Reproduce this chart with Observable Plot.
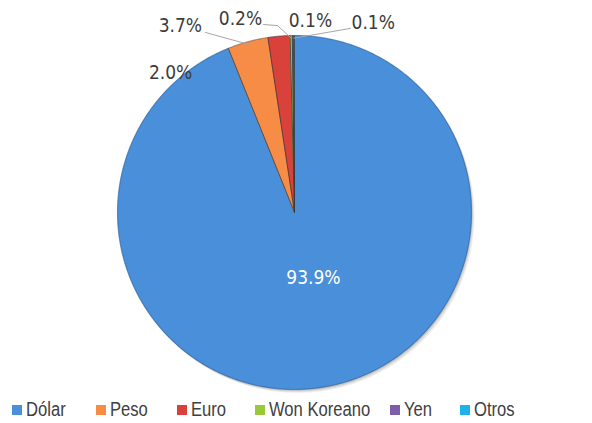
<!DOCTYPE html>
<html><head><meta charset="utf-8">
<script src="https://cdn.jsdelivr.net/npm/d3@7"></script>
<script src="https://cdn.jsdelivr.net/npm/@observablehq/plot@0.6"></script>
<style>
body{margin:0;background:#fff;}
#legend{position:relative;height:28px;font-family:"Liberation Sans",Arial,sans-serif;font-size:20px;color:#404040;}
#legend .item{position:absolute;top:3px;display:flex;align-items:center;white-space:nowrap;}
#legend .sw{width:10px;height:10px;margin-right:4px;flex:none;}
#legend .tx{display:inline-block;transform:scaleX(0.83);transform-origin:left center;}
</style>
</head><body><div id="chart"></div><div id="legend"></div>
<script>
// ---- data ----
const categories = ["Dólar", "Peso", "Euro", "Won Koreano", "Yen", "Otros"];
const shares = [93.9, 3.7, 2.0, 0.2, 0.1, 0.1];
const colors = ["#4a8fd9", "#f68c45", "#d9413b", "#9bc73b", "#7d5ea8", "#1db2ea"];
const labelTexts = ["2.0%", "3.7%", "0.2%", "0.1%", "0.1%"];
const mainLabel = "93.9%";

// ---- layout ----
const W = 592, H = 395, cx = 294, cy = 212, R = 177;
const labelXY = [[-0.70, 0.79], [-0.645, 1.055], [-0.305, 1.095], [0.09, 1.085], [0.445, 1.073]];
const mainXY = [0.107, -0.367];
const leaderDefs = [
  {pts: [[-0.503, 1.017]], slice: 1},
  {pts: [[-0.175, 1.062], [-0.096, 1.056]], slice: 3},
  {pts: [[0.316, 1.040]], slice: 5}
];
const legendLeft = [12, 96, 177, 255, 390, 460];
const shadowSteps = [[1, 1.5, 0.10], [2, 2.5, 0.08], [3, 3.5, 0.06]];
const FONT = "DejaVu Sans Condensed, DejaVu Sans, sans-serif";

const data = categories.map((c, i) => ({name: c, share: shares[i]}));
const arcs = d3.pie().sort(null).value(d => d.share)(data);

const pts = [];
const rim = [];
arcs.forEach(a => {
  const n = Math.max(2, Math.ceil((a.endAngle - a.startAngle) / (Math.PI / 360)));
  pts.push({name: a.data.name, x: 0, y: 0});
  for (let k = 0; k <= n; k++) {
    const t = a.startAngle + (a.endAngle - a.startAngle) * k / n;
    pts.push({name: a.data.name, x: Math.sin(t), y: Math.cos(t)});
    rim.push({x: Math.sin(t), y: Math.cos(t)});
  }
});
const edges = arcs.map(a => ({x: Math.sin(a.startAngle), y: Math.cos(a.startAngle)}));

const leaders = [];
leaderDefs.forEach((l, i) => {
  l.pts.forEach(p => leaders.push({id: i, x: p[0], y: p[1]}));
  const a = arcs[l.slice];
  const m = (a.startAngle + a.endAngle) / 2;
  leaders.push({id: i, x: 0.985 * Math.sin(m), y: 0.985 * Math.cos(m)});
});

const labels = labelTexts.map((t, i) => ({text: t, x: labelXY[i][0], y: labelXY[i][1]}));

const chart = Plot.plot({
  width: W, height: H, margin: 0,
  style: {background: "#fff"},
  x: {domain: [-cx / R, (W - cx) / R], axis: null},
  y: {domain: [-(H - cy) / R, cy / R], axis: null},
  color: {domain: categories, range: colors},
  marks: [
    ...shadowSteps.map(([dx, dy, op]) =>
      Plot.line(rim, {x: "x", y: "y", fill: "#000", fillOpacity: op, stroke: "none", curve: "linear-closed", dx, dy})),
    Plot.line(pts, {x: "x", y: "y", z: "name", fill: "name", stroke: "name", strokeWidth: 0.5, curve: "linear-closed"}),
    Plot.line(rim, {x: "x", y: "y", stroke: "#1b3f6e", strokeOpacity: 0.35, strokeWidth: 1.2}),
    Plot.link(edges, {x1: 0, y1: 0, x2: "x", y2: "y", stroke: "#3a3a3a", strokeWidth: 0.8}),
    Plot.line(leaders, {x: "x", y: "y", z: "id", stroke: "#a6a6a6", strokeWidth: 1}),
    Plot.text(labels, {x: "x", y: "y", text: "text", fontSize: 19, fill: "#3c3c3c", fontFamily: FONT}),
    Plot.text([{x: mainXY[0], y: mainXY[1], text: mainLabel}], {x: "x", y: "y", text: "text", fontSize: 19, fill: "#fff", fontFamily: FONT})
  ]
});
document.getElementById("chart").appendChild(chart);

const legend = document.getElementById("legend");
categories.forEach((c, i) => {
  const it = document.createElement("div");
  it.className = "item";
  it.style.left = legendLeft[i] + "px";
  const sw = document.createElement("span");
  sw.className = "sw";
  sw.style.background = colors[i];
  const tx = document.createElement("span");
  tx.className = "tx";
  tx.textContent = c;
  it.appendChild(sw);
  it.appendChild(tx);
  legend.appendChild(it);
});
</script>
</body></html>
